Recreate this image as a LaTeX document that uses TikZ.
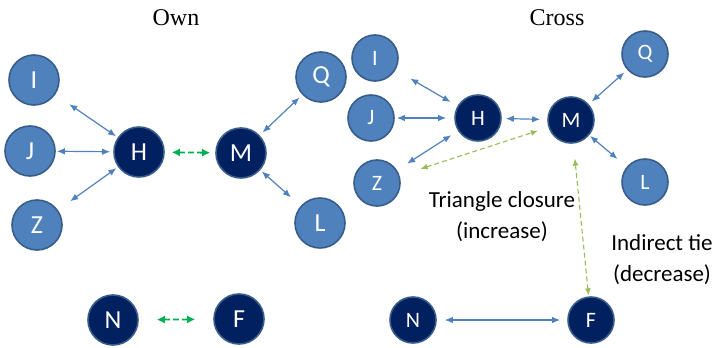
\documentclass[tikz,border=0pt]{standalone}
\usepackage{fontspec}
\setmainfont{Liberation Serif}
\newfontfamily\calfont{Carlito}
\usepackage{tikz}
\usetikzlibrary{positioning}
\usetikzlibrary{arrows.meta}
\definecolor{nodeblue}{HTML}{4F81BD}
\definecolor{nodeedge}{HTML}{385D8A}
\definecolor{navy}{HTML}{002060}
\definecolor{tiegreen}{HTML}{00B050}
\definecolor{closegreen}{HTML}{9BBB59}
\tikzset{
	peer/.style={circle,draw=nodeedge,fill=nodeblue,line width=1.6pt,text=white,inner sep=0pt},
	focal/.style={peer,fill=navy},
	bigpeer/.style={minimum size=50pt,font=\calfont\fontsize{26}{26}\selectfont},
	smallpeer/.style={minimum size=46pt,font=\calfont\fontsize{22}{22}\selectfont},
	tie/.style={{Latex[length=8pt,width=6.5pt]}-{Latex[length=8pt,width=6.5pt]},nodeblue,line width=1.2pt},
	newtie/.style={{Latex[length=8pt,width=8pt]}-{Latex[length=8pt,width=8pt]},tiegreen,dash pattern=on 6pt off 3pt,line width=1.8pt},
	triad/.style={{Latex[length=7pt,width=6pt]}-{Latex[length=7pt,width=6pt]},closegreen,dash pattern=on 5pt off 3pt,line width=1.1pt},
	note/.style={align=center,font=\calfont\fontsize{23}{31}\selectfont}
}
\begin{document}
\begin{tikzpicture}[x=1pt,y=-1pt]
	\useasboundingbox (0,0) rectangle (715,348);
	%own network
	\node (own) at (176,18) {\fontsize{24}{24}\selectfont Own};
	\node[peer,bigpeer] (lI) at (34,80) {I};
	\node[peer,bigpeer] (lJ) at (30,151) {J};
	\node[peer,bigpeer] (lZ) at (37,225) {Z};
	\node[focal,bigpeer] (lH) at (139,152) {H};
	\node[focal,bigpeer] (lM) at (241,153) {M};
	\node[peer,bigpeer] (lQ) at (321,77) {Q};
	\node[peer,bigpeer] (lL) at (320,223) {L};
	\node[focal,bigpeer] (lN) at (113,320) {N};
	\node[focal,bigpeer] (lF) at (239,319) {F};
	\draw[tie,shorten <=17pt,shorten >=2pt] (lI) -- (lH);
	\draw[tie,shorten <=1pt,shorten >=3pt] (lJ) -- (lH);
	\draw[tie,shorten <=15pt,shorten >=2pt] (lZ) -- (lH);
	\draw[tie,shorten <=4pt,shorten >=4pt] (lM) -- (lQ);
	\draw[tie,shorten <=2pt,shorten >=13pt] (lM) -- (lL);
	\draw[newtie,shorten <=7pt,shorten >=5pt] (lH) -- (lM);
	\draw[newtie,shorten <=18pt,shorten >=18pt] (lN) -- (lF);
	
	%cross network
	\node (cross) at (557,18) {\fontsize{24}{24}\selectfont Cross};
	\node[peer,smallpeer] (rI) at (375,58) {I};
	\node[peer,smallpeer] (rJ) at (371,118) {J};
	\node[peer,smallpeer] (rZ) at (377,183) {Z};
	\node[focal,smallpeer] (rH) at (478,118) {H};
	\node[focal,smallpeer] (rM) at (571,120) {M};
	\node[peer,smallpeer] (rQ) at (645,54) {Q};
	\node[peer,smallpeer] (rL) at (645,182) {L};
	\node[focal,smallpeer] (rN) at (413,320) {N};
	\node[focal,smallpeer] (rF) at (591,320) {F};
	\draw[tie,shorten <=17pt,shorten >=8pt] (rI) -- (rH);
	\draw[tie,shorten <=2pt,shorten >=8pt] (rJ) -- (rH);
	\draw[tie,shorten <=12pt,shorten >=8pt] (rZ) -- (rH);
	\draw[tie,shorten <=4pt,shorten >=7pt] (rH) -- (rM);
	\draw[tie,shorten <=4pt,shorten >=4pt] (rM) -- (rQ);
	\draw[tie,shorten <=1pt,shorten >=12pt] (rM) -- (rL);
	\draw[tie,shorten <=8pt,shorten >=7pt] (rN) -- (rF);
	\draw[triad,shorten <=22pt,shorten >=11pt] (rZ) -- (rM);
	\draw[triad,shorten <=15pt,shorten >=1pt] (rM) -- (rF);
	\node[note] (closure) at (502,217) {Triangle closure\\(increase)};
	\node[note] (indirect) at (662,260) {Indirect tie\\(decrease)};
\end{tikzpicture}
\end{document}
